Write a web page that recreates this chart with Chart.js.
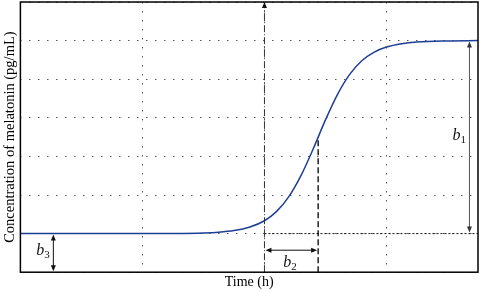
<!DOCTYPE html>
<html>
<head>
<meta charset="utf-8">
<script src="https://cdn.jsdelivr.net/npm/chart.js@4.4.1/dist/chart.umd.min.js"></script>
<style>
	html, body { margin: 0; padding: 0; background: #ffffff; }
	#wrap { width: 480px; height: 292px; }
</style>
</head>
<body>
<div id="wrap"><canvas id="chartMelatonin" width="480" height="292"></canvas></div>
<script>
	// values (x in grid units, y in grid units)
	const timeH = [0, 0.5, 1.0, 1.25, 1.5, 1.625, 1.75, 1.875, 2.0, 2.1, 2.2, 2.3, 2.4, 2.5, 2.6, 2.7, 2.8, 2.9, 3.0, 3.125, 3.25, 3.5, 3.75];
	const melatonin = [1.0, 1.0, 1.001, 1.004, 1.018, 1.037, 1.078, 1.163, 1.333, 1.575, 1.958, 2.508, 3.2, 3.945, 4.615, 5.132, 5.484, 5.702, 5.832, 5.919, 5.962, 5.991, 6.0];
	const xTicks = [0, 1, 2, 3];
	const yTicks = [0, 1, 2, 3, 4, 5, 6, 7];

	// annotation values
	const onsetX = 2.0;
	const midX = 2.44;
	const midY = 3.5;
	const baseY = 1.0;
	const topY = 6.0;
	const b1X = 3.68;
	const b2Y = 0.57;
	const b3X = 0.27;

	const serif = '"Liberation Serif", "Times New Roman", serif';

	const drawArrowHead = function (ctx, x, y, dir) {
		// dir: 'up' | 'down' | 'left' | 'right'
		const l = 6, w = 2.5;
		ctx.beginPath();
		if (dir === 'up') { ctx.moveTo(x, y); ctx.lineTo(x - w, y + l); ctx.lineTo(x + w, y + l); }
		if (dir === 'down') { ctx.moveTo(x, y); ctx.lineTo(x - w, y - l); ctx.lineTo(x + w, y - l); }
		if (dir === 'left') { ctx.moveTo(x, y); ctx.lineTo(x + l, y - w); ctx.lineTo(x + l, y + w); }
		if (dir === 'right') { ctx.moveTo(x, y); ctx.lineTo(x - l, y - w); ctx.lineTo(x - l, y + w); }
		ctx.closePath();
		ctx.fill();
	}

	const drawLabel = function (ctx, x, y, sub) {
		ctx.font = 'italic 16px ' + serif;
		ctx.textBaseline = 'alphabetic';
		ctx.textAlign = 'left';
		ctx.fillText('b', x, y);
		const w = ctx.measureText('b').width;
		ctx.font = '11px ' + serif;
		ctx.fillText(sub, x + w, y + 3);
	}

	const annotationPlugin = {
		id: 'annotations',
		afterDatasetsDraw(chart) {
			const ctx = chart.ctx;
			const xs = chart.scales.x;
			const ys = chart.scales.y;
			const area = chart.chartArea;
			ctx.save();

			// dotted baseline right of onset
			ctx.strokeStyle = '#111';
			ctx.lineWidth = 1;
			ctx.setLineDash([2, 2]);
			ctx.beginPath();
			ctx.moveTo(xs.getPixelForValue(onsetX), ys.getPixelForValue(baseY));
			ctx.lineTo(area.right, ys.getPixelForValue(baseY));
			ctx.stroke();

			// dash-dot onset line with arrow
			ctx.strokeStyle = '#333';
			ctx.setLineDash([7, 2, 1, 2]);
			ctx.beginPath();
			ctx.moveTo(xs.getPixelForValue(onsetX), area.bottom);
			ctx.lineTo(xs.getPixelForValue(onsetX), area.top + 4);
			ctx.stroke();
			ctx.setLineDash([]);
			ctx.fillStyle = '#111';
			drawArrowHead(ctx, xs.getPixelForValue(onsetX), area.top, 'up');

			// dashed line to midpoint
			ctx.strokeStyle = '#000';
			ctx.lineWidth = 1.3;
			ctx.setLineDash([6, 3]);
			ctx.beginPath();
			ctx.moveTo(xs.getPixelForValue(midX), area.bottom);
			ctx.lineTo(xs.getPixelForValue(midX), ys.getPixelForValue(midY));
			ctx.stroke();
			ctx.setLineDash([]);

			// b2
			ctx.lineWidth = 1;
			ctx.strokeStyle = '#111';
			const b2l = xs.getPixelForValue(onsetX) + 1;
			const b2r = xs.getPixelForValue(midX) - 1;
			const b2y = ys.getPixelForValue(b2Y);
			ctx.beginPath();
			ctx.moveTo(b2l + 3, b2y);
			ctx.lineTo(b2r - 3, b2y);
			ctx.stroke();
			drawArrowHead(ctx, b2l, b2y, 'left');
			drawArrowHead(ctx, b2r, b2y, 'right');
			drawLabel(ctx, (b2l + b2r) / 2 - 8, b2y + 17, '2');

			// b3
			const b3x = xs.getPixelForValue(b3X);
			const b3t = ys.getPixelForValue(baseY) + 1;
			const b3b = ys.getPixelForValue(0) - 1;
			ctx.beginPath();
			ctx.moveTo(b3x, b3t + 3);
			ctx.lineTo(b3x, b3b - 3);
			ctx.stroke();
			drawArrowHead(ctx, b3x, b3t, 'up');
			drawArrowHead(ctx, b3x, b3b, 'down');
			drawLabel(ctx, b3x - 17, b3t + 20, '3');

			// b1
			ctx.strokeStyle = '#555';
			ctx.fillStyle = '#333';
			const b1x = xs.getPixelForValue(b1X);
			const b1t = ys.getPixelForValue(topY) + 1;
			const b1b = ys.getPixelForValue(baseY) - 1;
			ctx.beginPath();
			ctx.moveTo(b1x, b1t + 3);
			ctx.lineTo(b1x, b1b - 3);
			ctx.stroke();
			drawArrowHead(ctx, b1x, b1t, 'up');
			drawArrowHead(ctx, b1x, b1b, 'down');
			ctx.fillStyle = '#111';
			drawLabel(ctx, b1x - 17, ys.getPixelForValue(3.5) + 3, '1');

			// frame
			ctx.strokeStyle = '#000';
			ctx.lineWidth = 1.5;
			ctx.strokeRect(area.left, area.top, area.right - area.left, area.bottom - area.top);
			ctx.restore();
		}
	};

	const handleInitialChart = function () {
		const chart = document.getElementById('chartMelatonin').getContext('2d');
		const points = timeH.map((t, idx) => ({ x: t, y: melatonin[idx] }));

		new Chart(chart, {
			type: 'line',
			data: {
				datasets: [
					{
						data: points,
						borderColor: '#1c3f95',
						borderWidth: 1.5,
						pointRadius: 0,
						cubicInterpolationMode: 'monotone',
						fill: false
					}
				]
			},
			options: {
				responsive: false,
				animation: false,
				layout: {
					padding: { top: 2, right: 2, left: 1, bottom: 0 }
				},
				plugins: {
					legend: { display: false },
					tooltip: { enabled: false }
				},
				scales: {
					x: {
						type: 'linear',
						min: 0,
						max: 3.75,
						afterBuildTicks: (scale) => { scale.ticks = xTicks.map(v => ({ value: v })); },
						ticks: { display: false },
						grid: {
							color: '#555',
							lineWidth: 1,
							drawTicks: false,
							tickLength: 0
						},
						border: { display: false, dash: [1.5, 7.5] },
						title: {
							display: true,
							text: 'Time (h)',
							color: '#000',
							font: { family: serif, size: 14 },
							padding: { top: 2, bottom: 1 }
						}
					},
					y: {
						min: 0,
						max: 7,
						afterBuildTicks: (scale) => { scale.ticks = yTicks.map(v => ({ value: v })); },
						ticks: { display: false },
						grid: {
							color: '#555',
							lineWidth: 1,
							drawTicks: false,
							tickLength: 0
						},
						border: { display: false, dash: [1.5, 7.5] },
						title: {
							display: true,
							text: 'Concentration of melatonin (pg/mL)',
							color: '#000',
							font: { family: serif, size: 14.5 },
							padding: { top: 0, bottom: 2 }
						}
					}
				}
			},
			plugins: [annotationPlugin]
		});
	}

	handleInitialChart();
</script>
</body>
</html>
